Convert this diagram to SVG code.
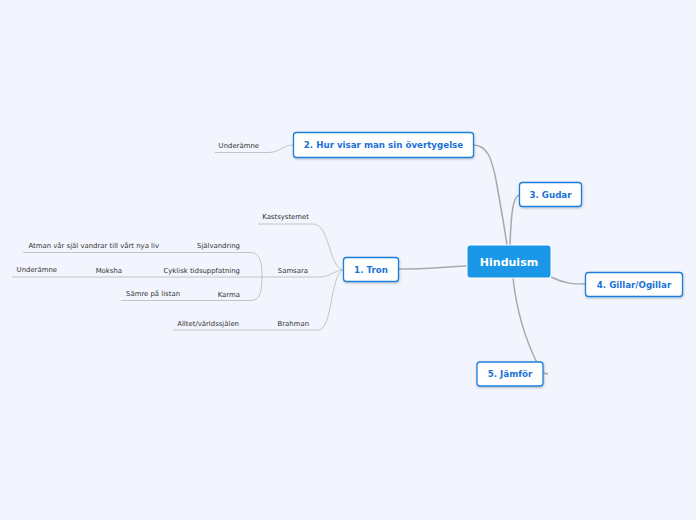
<svg xmlns="http://www.w3.org/2000/svg" width="696" height="520" viewBox="0 0 696 520">
<style>
.bg{fill:#f2f5fd}
.main{fill:none;stroke:#a9a9a9;stroke-width:1.5}
.sub{fill:none;stroke:#c4c4c4;stroke-width:1}
.box{fill:#fff;stroke:#1f7fdc;stroke-width:1.3}
.lbl{font-family:"DejaVu Sans",Verdana,sans-serif;font-weight:bold;font-size:8.7px;fill:#1a72d6;text-anchor:middle}
.root{fill:#1b97e7;stroke:#ffffff;stroke-width:1}
.rootlbl{font-family:"DejaVu Sans",Verdana,sans-serif;font-weight:bold;font-size:11px;fill:#fff;text-anchor:middle}
.t{font-family:"DejaVu Sans",Verdana,sans-serif;font-size:6.9px;fill:#333;text-anchor:end}
</style>
<defs>
<filter id="sh" x="-20%" y="-20%" width="140%" height="160%">
<feDropShadow dx="0.5" dy="1" stdDeviation="0.8" flood-color="#000" flood-opacity="0.25"/>
</filter>
</defs>
<rect class="bg" x="0" y="0" width="696" height="520"/>
<g id="connectors">
<path class="main" d="M473,145 C488,145 492,160 496,180 C500,202 504,225 507,245"/>
<path class="main" d="M510,245 C511,220 512,195 520,195"/>
<path class="main" d="M551,277 C565,284 575,284 585,284"/>
<path class="main" d="M513,278 C517,315 528,345 538,365 C540,370 543,374 548,374"/>
<path class="main" d="M399,269 C430,269 440,267 467,266"/>
<path class="sub" d="M215,152.5 L268,152.5 C280,152.5 283,145 293,145"/>
<path class="sub" d="M258,224 L313,224 C330,224 328,266 343,270"/>
<path class="sub" d="M12,277 L320,277 C330,277 335,270 343,270"/>
<path class="sub" d="M173,330 L318,330 C333,330 330,275 343,270"/>
<path class="sub" d="M23,252.5 L250,252.5 C260,252.5 262,262 262,277"/>
<path class="sub" d="M121,300.5 L250,300.5 C260,300.5 262,292 262,277"/>
</g>
<g id="hinduism">
<rect class="root" x="467" y="245" width="84" height="33" rx="3"/>
<text class="rootlbl" x="509" y="265.5">Hinduism</text>
</g>
<g id="n2">
<rect class="box" filter="url(#sh)" x="293.5" y="132.5" width="180" height="25" rx="3"/>
<text class="lbl" x="383.5" y="148.2">2. Hur visar man sin övertygelse</text>
</g>
<g id="n3">
<rect class="box" filter="url(#sh)" x="519.5" y="182.5" width="62" height="24" rx="3"/>
<text class="lbl" x="550.5" y="197.7">3. Gudar</text>
</g>
<g id="n4">
<rect class="box" filter="url(#sh)" x="585.5" y="272.5" width="97" height="24" rx="3"/>
<text class="lbl" x="634" y="287.7">4. Gillar/Ogillar</text>
</g>
<g id="n5">
<rect class="box" filter="url(#sh)" x="477" y="362" width="66" height="24" rx="3"/>
<text class="lbl" x="510" y="377.2">5. Jämför</text>
</g>
<g id="n1">
<rect class="box" filter="url(#sh)" x="343.5" y="257.5" width="55" height="24" rx="3"/>
<text class="lbl" x="371" y="272.7">1. Tron</text>
</g>
<g id="n2-underamne"><text class="t" x="259" y="148.3">Underämne</text></g>
<g id="kastsystemet"><text class="t" x="309" y="219.2">Kastsystemet</text></g>
<g id="samsara"><text class="t" x="308" y="272.5">Samsara</text></g>
<g id="brahman"><text class="t" x="309" y="326">Brahman</text></g>
<g id="sjalvandring"><text class="t" x="240" y="248.2">Självandring</text></g>
<g id="atman"><text class="t" x="159" y="248.2">Atman vår själ vandrar till vårt nya liv</text></g>
<g id="cyklisk"><text class="t" x="240" y="272.5">Cyklisk tidsuppfatning</text></g>
<g id="moksha"><text class="t" x="122" y="272.5">Moksha</text></g>
<g id="underamne"><text class="t" x="57" y="272">Underämne</text></g>
<g id="karma"><text class="t" x="240" y="297.2">Karma</text></g>
<g id="samre"><text class="t" x="180" y="296">Sämre på listan</text></g>
<g id="alltet"><text class="t" x="239" y="326">Alltet/världssjälen</text></g>
</svg>
